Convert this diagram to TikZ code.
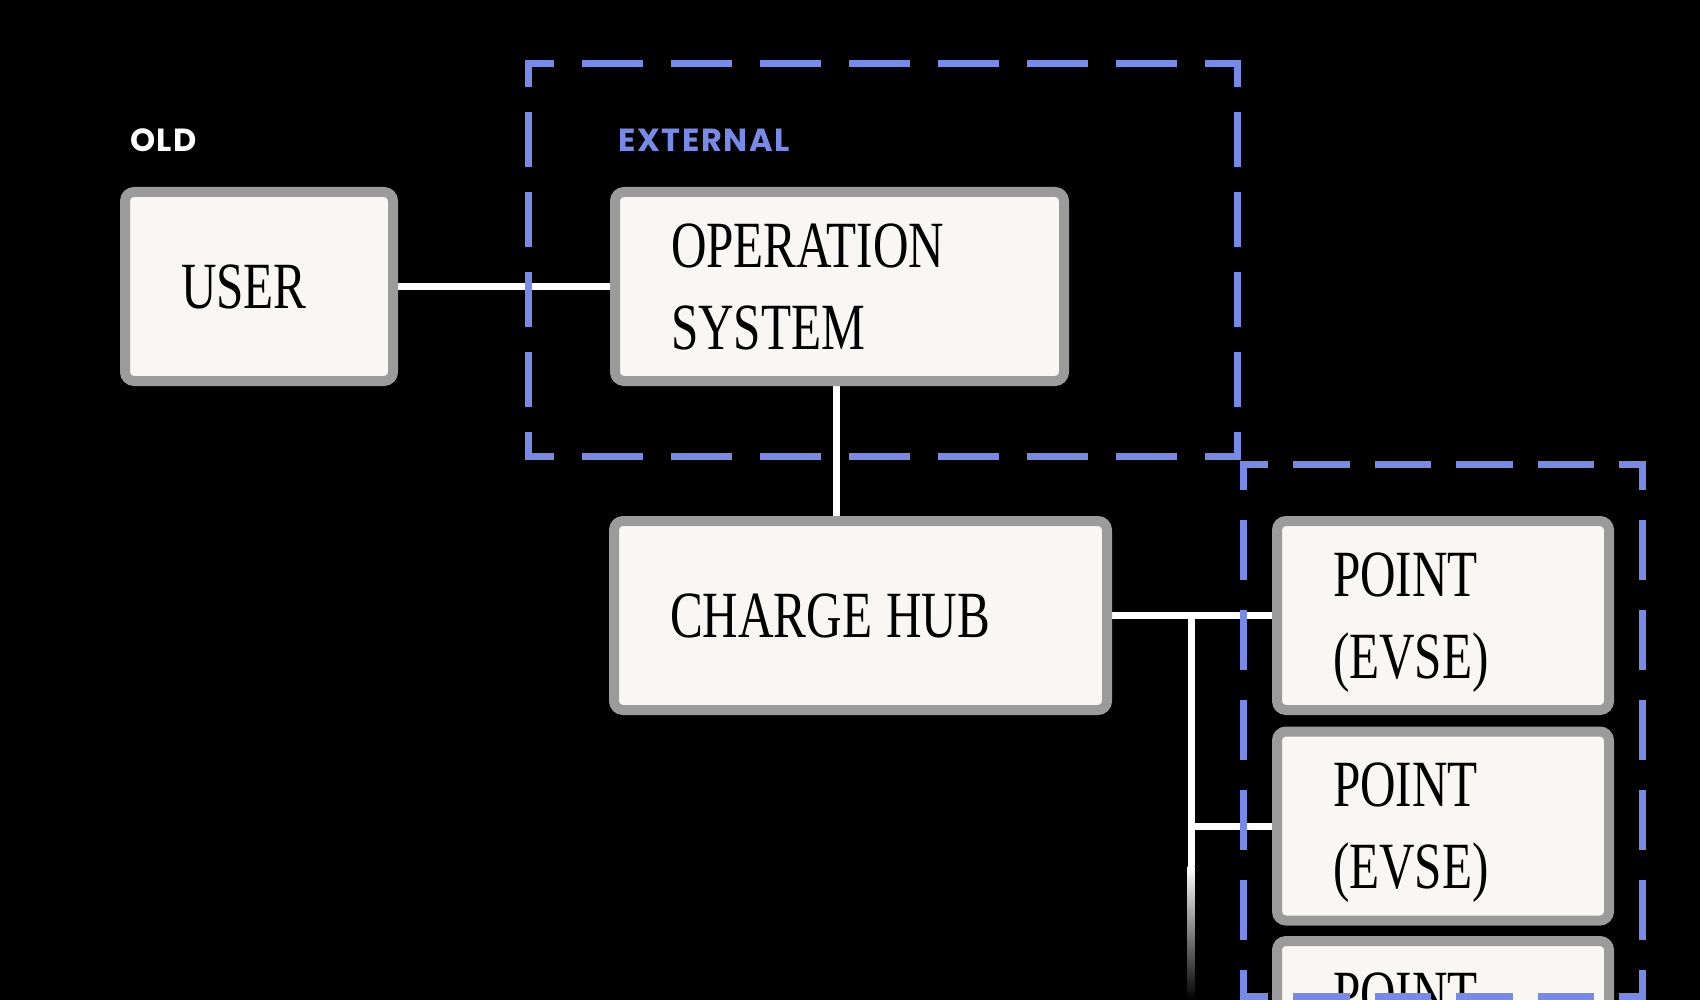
\documentclass[tikz,border=0pt]{standalone}
\usepackage{fontspec}
\newfontfamily\boxfont{Liberation Serif}[FakeStretch=0.745]
\newfontfamily\labfont{Poppins}[LetterSpace=5]
\newcommand\boxtextsetup{\boxfont\fontsize{66}{82}\selectfont}
\usetikzlibrary{calc}
\definecolor{boxfill}{HTML}{F8F7F3}
\definecolor{boxline}{HTML}{9B9B9B}
\definecolor{frameblue}{HTML}{788AE8}
\pgfdeclarelayer{bg}
\pgfdeclarelayer{wires}
\pgfsetlayers{bg,wires,main}
\tikzset{
  box/.style={draw=boxline, line width=10pt, fill=boxfill, rounded corners=9pt,
    inner xsep=56pt, inner ysep=0pt, align=left,
    minimum height=189pt, text=black,
    font=\boxtextsetup},
  wire/.style={draw=white, line width=7pt},
  lab/.style={font=\labfont\bfseries\fontsize{32}{38}\selectfont, inner sep=0pt, anchor=base west},
  frameAh/.style={draw=frameblue, line width=7pt, dash pattern=on 61pt off 28pt, dash phase=32.5pt},
  frameAv/.style={draw=frameblue, line width=7pt, dash pattern=on 55pt off 25pt, dash phase=28.5pt},
  frameBh/.style={draw=frameblue, line width=7pt, dash pattern=on 56.5pt off 25pt, dash phase=28.5pt},
  frameBv/.style={draw=frameblue, line width=7pt, dash pattern=on 60pt off 30pt, dash phase=30.5pt},
}
\begin{document}
\begin{tikzpicture}[x=1pt,y=-1pt]
\useasboundingbox (0,0) rectangle (1700,1000);
\begin{pgfonlayer}{bg}
  \fill[black] (0,0) rectangle (1700,1000);
\end{pgfonlayer}

% labels
\node[lab, text=white] (old) at (130,152) {OLD};
\node[lab, text=frameblue] (ext) at (618,152) {EXTERNAL};

% boxes
\node[box, text width=156pt, minimum width=268pt] (user) at (259,286.5) {USER};
\node[box, text width=337pt, minimum width=449pt] (os) at (839.5,286.5) {OPERATION\\SYSTEM};
\node[box, text width=381pt, minimum width=493pt] (ch) at (860.5,615.5) {CHARGE\hspace{14pt}HUB};
\node[box, text width=220pt, minimum width=332pt] (p1) at (1443,615.5) {POINT\\\smash{(EVSE)}};
\node[box, text width=220pt, minimum width=332pt] (p2) at (1443,826) {POINT\\\smash{(EVSE)}};
\node[box, text width=220pt, minimum width=332pt] (p3) at (1443,1035.5) {POINT\\\smash{(EVSE)}};

% connectors
\coordinate (j) at (1191,615.5);
\coordinate (jfade) at (1191,866);
\coordinate (jend) at (1191,1000);
\begin{pgfonlayer}{wires}
  \draw[wire] (user.east) -- (os.west);
  \draw[wire] ([xshift=-3pt]os.south) -- ([xshift=-3pt]os.south |- ch.north);
  \draw[wire] (ch.east) -- (p1.west);
  \draw[wire] (j) -- (jfade);
  \draw[wire] (j |- p2.west) -- (p2.west);
  \shade[top color=white, bottom color=black] ($(jfade)+(-3.5,0)$) rectangle ($(jend)+(3.5,0)$);
\end{pgfonlayer}

% dashed frames
\draw[frameAh] (525,64) -- (1241,64);
\draw[frameAh] (525,456) -- (1241,456);
\draw[frameAv] (528.5,60.5) -- (528.5,459.5);
\draw[frameAv] (1237.5,60.5) -- (1237.5,459.5);
\draw[frameBh] (1240,464) -- (1645.5,464);
\draw[frameBh] (1240,996.5) -- (1645.5,996.5);
\draw[frameBv] (1243.5,460.5) -- (1243.5,1000);
\draw[frameBv] (1642,460.5) -- (1642,1000);
\end{tikzpicture}
\end{document}
